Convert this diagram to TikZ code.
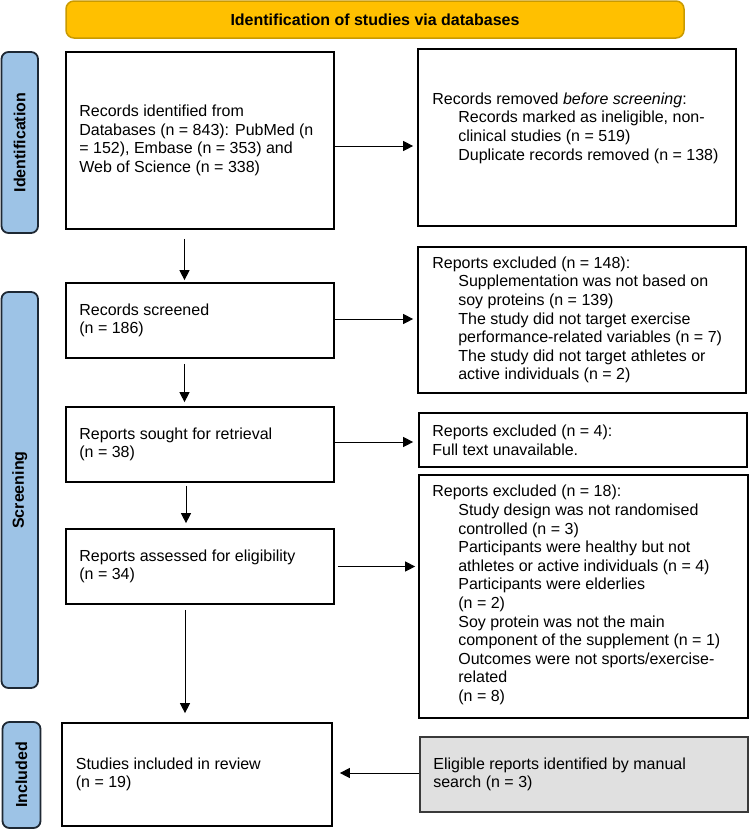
\documentclass[tikz,border=0pt]{standalone}
\usepackage{fontspec}
\setmainfont{Liberation Sans}
\usetikzlibrary{arrows.meta}
\definecolor{titlefill}{HTML}{FFC000}
\definecolor{titledraw}{HTML}{C99A00}
\definecolor{labfill}{HTML}{9DC3E6}
\definecolor{labdraw}{HTML}{1E2833}
\definecolor{grayfill}{HTML}{E0E0E0}
\definecolor{graydraw}{HTML}{3A3A3A}
\newcommand\myind{\hspace*{26pt}}
\tikzset{
  box/.style={draw=black, line width=1.7pt, rectangle, inner sep=0pt},
  txt/.style={anchor=west, align=left, inner sep=0pt, font=\fontsize{16}{18.6}\selectfont},
  sidelab/.style={draw=labdraw, fill=labfill, line width=1.8pt, rounded corners=7pt, inner sep=0pt},
  labtxt/.style={rotate=90, font=\bfseries\fontsize{16}{18}\selectfont, inner sep=0pt},
  arr/.style={-{Triangle[length=10pt,width=10pt]}, line width=1pt}
}
\begin{document}
\begin{tikzpicture}[x=1pt,y=-1pt]
\useasboundingbox (0,0) rectangle (751,831);
% title
\node[draw=titledraw, fill=titlefill, line width=1.5pt, rounded corners=8pt, minimum width=618pt, minimum height=37pt, inner sep=0pt, font=\bfseries\fontsize{16}{18}\selectfont] (title) at (375,19.5) {Identification of studies via databases};
% side labels
\node[sidelab, minimum width=36.5pt, minimum height=181pt] (labId) at (19.75,142.5) {};
\node[labtxt] (labIdT) at (labId.center) {Identification};
\node[sidelab, minimum width=36.5pt, minimum height=396pt] (labScr) at (19.75,490) {};
\node[labtxt] (labScrT) at (labScr.center) {Screening};
\node[sidelab, minimum width=38pt, minimum height=106pt] (labInc) at (21.5,775) {};
\node[labtxt] (labIncT) at (labInc.center) {Included};
% boxes
\node[box, minimum width=268pt, minimum height=177pt] (A) at (200,140.5) {};
\node[txt] (At) at ([xshift=14pt]A.west) {Records identified from\\Databases (n = 843): PubMed (n\\= 152), Embase (n = 353) and\\Web of Science (n = 338)};
\node[box, minimum width=318pt, minimum height=177pt] (B) at (577,137.5) {};
\node[txt] (Bt) at ([xshift=15pt,yshift=9.5pt]B.west) {Records removed \textit{before screening}:\\\myind Records marked as ineligible, non-\\\myind clinical studies (n = 519)\\\myind Duplicate records removed (n = 138)};
\node[box, minimum width=268pt, minimum height=75pt] (C) at (200,320.5) {};
\node[txt] (Ct) at ([xshift=14pt]C.west) {Records screened\\(n = 186)};
\node[box, minimum width=328pt, minimum height=146pt] (X) at (582,320) {};
\node[txt] (Xt) at ([xshift=15pt]X.west) {Reports excluded (n = 148):\\\myind Supplementation was not based on\\\myind soy proteins (n = 139)\\\myind The study did not target exercise\\\myind performance-related variables (n = 7)\\\myind The study did not target athletes or\\\myind active individuals (n = 2)};
\node[box, minimum width=268pt, minimum height=75pt] (D) at (200,444.5) {};
\node[txt] (Dt) at ([xshift=14pt]D.west) {Reports sought for retrieval\\(n = 38)};
\node[box, minimum width=328pt, minimum height=54pt] (E) at (583,440) {};
\node[txt] (Et) at ([xshift=14pt]E.west) {Reports excluded (n = 4):\\Full text unavailable.};
\node[box, minimum width=268pt, minimum height=75pt] (F) at (200,566.5) {};
\node[txt] (Ft) at ([xshift=14pt]F.west) {Reports assessed for eligibility\\(n = 34)};
\node[box, minimum width=329pt, minimum height=243pt] (G) at (583.5,596.5) {};
\node[txt] (Gt) at ([xshift=14pt,yshift=1.5pt]G.west) {Reports excluded (n = 18):\\\myind Study design was not randomised\\\myind controlled (n = 3)\\\myind Participants were healthy but not\\\myind athletes or active individuals (n = 4)\\\myind Participants were elderlies\\\myind (n = 2)\\\myind Soy protein was not the main\\\myind component of the supplement (n = 1)\\\myind Outcomes were not sports/exercise-\\\myind related\\\myind (n = 8)};
\node[box, minimum width=270pt, minimum height=103pt] (H) at (197,774.5) {};
\node[txt] (Ht) at ([xshift=14.5pt]H.west) {Studies included in review\\(n = 19)};
\node[box, draw=graydraw, fill=grayfill, minimum width=328pt, minimum height=75pt] (I) at (584,774.5) {};
\node[txt] (It) at ([xshift=14pt]I.west) {Eligible reports identified by manual\\search (n = 3)};
% arrows
\draw[arr] ([yshift=-5.5pt]A.east) -- ([yshift=-5.5pt,xshift=-4pt]A.east -| B.west);
\draw[arr] ([xshift=-15.5pt,yshift=-9pt]A.south) -- ([xshift=-15.5pt,yshift=2pt]C.north);
\draw[arr] ([yshift=1.5pt]C.east) -- ([yshift=1.5pt,xshift=-4pt]C.east -| X.west);
\draw[arr] ([xshift=-15.5pt,yshift=-5pt]C.south) -- ([xshift=-15.5pt,yshift=4pt]D.north);
\draw[arr] ([yshift=2.5pt]D.east) -- ([yshift=2.5pt,xshift=-5pt]D.east -| E.west);
\draw[arr] ([xshift=-14pt,yshift=-3pt]D.south) -- ([xshift=-14pt,yshift=5pt]F.north);
\draw[arr] ([xshift=3pt]F.east) -- ([xshift=-3pt]F.east -| G.west);
\draw[arr] ([xshift=-15pt,yshift=-5pt]F.south) -- ([xshift=-12pt,yshift=9pt]H.north);
\draw[arr] ([yshift=1.5pt]I.west) -- ([yshift=1.5pt,xshift=7pt]I.west -| H.east);
\end{tikzpicture}
\end{document}
